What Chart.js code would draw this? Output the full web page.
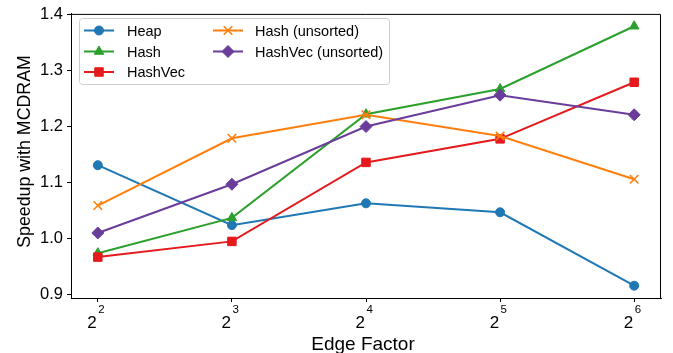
<!DOCTYPE html>
<html>
<head>
<meta charset="utf-8">
<script src="https://cdn.jsdelivr.net/npm/chart.js@4/dist/chart.umd.min.js"></script>
<style>
  html, body { margin: 0; background: #fff; }
  #c { display: block; }
</style>
</head>
<body>
<canvas id="c" width="673" height="353"></canvas>
<script>
/* MCDRAM speedup vs edge factor */
const exponents = [2, 3, 4, 5, 6];           // edge factor = 2^k
const yTicks = [0.9, 1.0, 1.1, 1.2, 1.3, 1.4];

const heap        = [1.131, 1.024, 1.063, 1.047, 0.916];
const hash        = [0.974, 1.037, 1.222, 1.267, 1.379];
const hashVec     = [0.967, 0.995, 1.136, 1.178, 1.279];
const hashUnsort  = [1.059, 1.179, 1.221, 1.183, 1.106];
const hashVecUns  = [1.010, 1.097, 1.200, 1.256, 1.221];

const seriesNames = ["Heap", "Hash", "HashVec", "Hash (unsorted)", "HashVec (unsorted)"];

const FONT = '"Liberation Sans", Arial, sans-serif';

const styles = [
  { color: "#1f77b4", point: "circle",   r: 4.5 },
  { color: "#2ca02c", point: "triangle", r: 5.5 },
  { color: "#e41a1c", point: "rect",     r: 6 },
  { color: "#ff7f0e", point: "crossRot", r: 6 },
  { color: "#6a3d9a", point: "rectRot",  r: 6 },
];

const values = [heap, hash, hashVec, hashUnsort, hashVecUns];

const datasets = values.map((vals, i) => {
  const s = styles[i];
  return {
    label: seriesNames[i],
    data: exponents.map((x, j) => ({ x, y: vals[j] })),
    borderColor: s.color,
    backgroundColor: s.color,
    borderWidth: 2,
    pointStyle: s.point,
    pointRadius: s.r,
    pointBorderWidth: s.point === "crossRot" ? 1.6 : 1,
    pointBackgroundColor: s.color,
    pointBorderColor: s.color,
    order: values.length - i,   // later series on top
    tension: 0,
  };
});

// frame, superscript tick labels, axis titles, legend
const decor = {
  id: "decor",
  afterDraw(chart) {
    const { ctx, chartArea: a, scales } = chart;
    ctx.save();
    ctx.strokeStyle = "#000";
    ctx.lineWidth = 1;
    ctx.beginPath();
    ctx.moveTo(a.left, a.top + 0.5);
    ctx.lineTo(a.right - 0.5, a.top + 0.5);
    ctx.lineTo(a.right - 0.5, a.bottom);
    ctx.stroke();

    // x tick labels as 2^k
    ctx.fillStyle = "#000";
    ctx.textBaseline = "alphabetic";
    for (const k of exponents) {
      const x = scales.x.getPixelForValue(k);
      ctx.font = `17px ${FONT}`;
      ctx.textAlign = "right";
      ctx.fillText("2", x - 1, 327.5);
      ctx.font = `11.5px ${FONT}`;
      ctx.textAlign = "left";
      ctx.fillText(String(k), x + 0.5, 312.5);
    }

    ctx.font = `19px ${FONT}`;
    ctx.textAlign = "center";
    ctx.fillText("Edge Factor", (a.left + a.right) / 2 - 3, 350);

    ctx.save();
    ctx.font = `17.8px ${FONT}`;
    ctx.translate(29.5, 151.5);
    ctx.rotate(-Math.PI / 2);
    ctx.fillText("Speedup with MCDRAM", 0, 0);
    ctx.restore();

    // legend box
    ctx.beginPath();
    ctx.roundRect(79.5, 18.5, 310, 66, 3);
    ctx.fillStyle = "rgba(255,255,255,0.8)";
    ctx.fill();
    ctx.strokeStyle = "#cccccc";
    ctx.lineWidth = 1;
    ctx.stroke();

    const rows = [30.5, 51.5, 72];
    const cols = [{ x0: 84, x1: 114, tx: 127 }, { x0: 213, x1: 243, tx: 255 }];
    ctx.font = `14.5px ${FONT}`;
    ctx.textAlign = "left";
    ctx.textBaseline = "middle";
    seriesNames.forEach((name, i) => {
      const col = cols[i < 3 ? 0 : 1];
      const y = rows[i < 3 ? i : i - 3];
      const s = styles[i];
      ctx.strokeStyle = s.color;
      ctx.lineWidth = 2;
      ctx.beginPath();
      ctx.moveTo(col.x0, y);
      ctx.lineTo(col.x1, y);
      ctx.stroke();
      ctx.fillStyle = s.color;
      ctx.lineWidth = s.point === "crossRot" ? 1.6 : 1;
      Chart.helpers.drawPoint(ctx, { pointStyle: s.point, radius: s.r, borderWidth: ctx.lineWidth },
        (col.x0 + col.x1) / 2, y);
      ctx.fillStyle = "#000";
      ctx.fillText(name, col.tx, y + 1);
    });
    ctx.restore();
  },
};

new Chart(document.getElementById("c"), {
  type: "line",
  data: { datasets },
  plugins: [decor],
  options: {
    responsive: false,
    animation: false,
    layout: { padding: { top: 11, right: 12, left: 0, bottom: 0 } },
    plugins: { legend: { display: false }, tooltip: { enabled: false } },
    scales: {
      x: {
        type: "linear",
        min: 1.8, max: 6.2,
        afterBuildTicks: (s) => { s.ticks = exponents.map((v) => ({ value: v })); },
        afterFit: (s) => { s.height = 55; },
        ticks: { display: false },
        grid: { drawOnChartArea: false, drawTicks: true, tickLength: 4, color: "#000", lineWidth: 1 },
        border: { display: true, color: "#000", width: 1 },
      },
      y: {
        min: 0.894, max: 1.401,
        afterBuildTicks: (s) => { s.ticks = yTicks.map((v) => ({ value: v })); },
        afterFit: (s) => { s.width = 71; },
        ticks: {
          color: "#000", padding: 4,
          font: { family: FONT, size: 16.5 },
          callback: (v) => v.toFixed(1),
        },
        grid: { drawOnChartArea: false, drawTicks: true, tickLength: 4, color: "#000", lineWidth: 1 },
        border: { display: true, color: "#000", width: 1 },
      },
    },
  },
});
</script>
</body>
</html>
